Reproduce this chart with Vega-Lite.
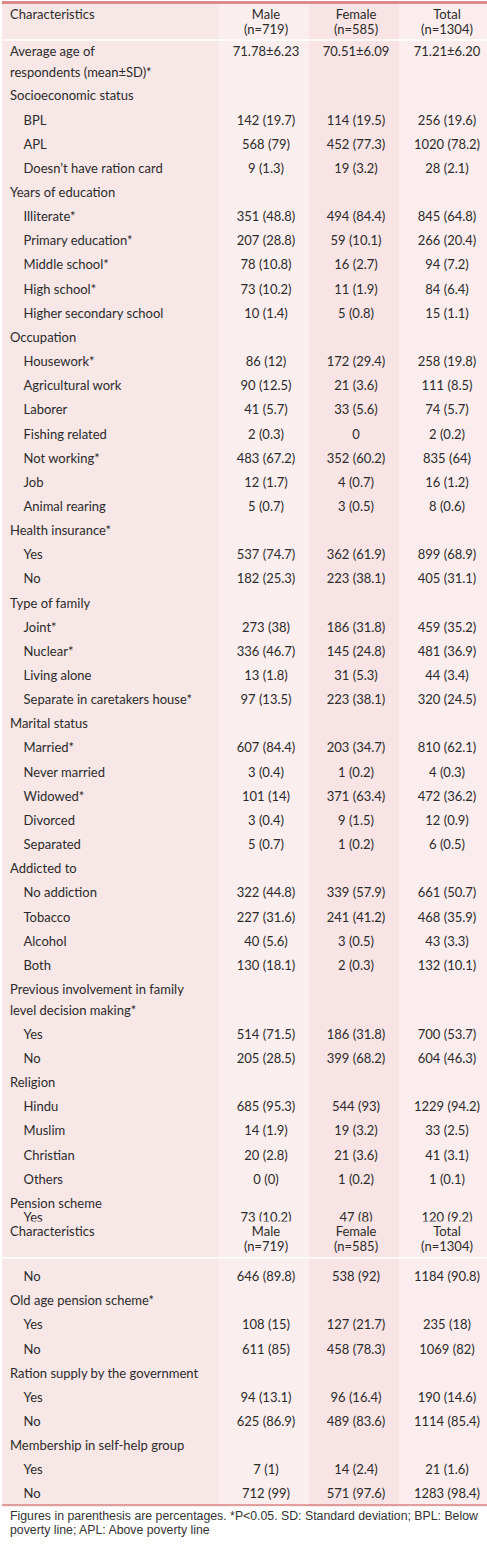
{
  "$schema": "https://vega.github.io/schema/vega-lite/v6.json",
  "padding": 0,
  "spacing": 0,
  "background": "white",
  "config": {
    "view": {"stroke": null},
    "concat": {"spacing": 0},
    "text": {"font": "Lato", "fontSize": 13, "color": "#2b2b2b", "baseline": "alphabetic", "dy": 4.5, "lineHeight": 21}
  },
  "datasets": {
    "rows": [
      {"s": 1, "r": -1.532, "level": 2, "label": "Characteristics", "m": "Male", "f": "Female", "t": "Total"},
      {"s": 1, "r": -0.89, "level": 2, "label": "", "m": "(n=719)", "f": "(n=585)", "t": "(n=1304)"},
      {"s": 1, "r": 0, "level": 0, "label": ["Average age of", "respondents (mean±SD)*"], "m": "71.78±6.23", "f": "70.51±6.09", "t": "71.21±6.20"},
      {"s": 1, "r": 1.86, "level": 0, "label": "Socioeconomic status", "m": "", "f": "", "t": ""},
      {"s": 1, "r": 2.86, "level": 1, "label": "BPL", "m": "142 (19.7)", "f": "114 (19.5)", "t": "256 (19.6)"},
      {"s": 1, "r": 3.86, "level": 1, "label": "APL", "m": "568 (79)", "f": "452 (77.3)", "t": "1020 (78.2)"},
      {"s": 1, "r": 4.86, "level": 1, "label": "Doesn’t have ration card", "m": "9 (1.3)", "f": "19 (3.2)", "t": "28 (2.1)"},
      {"s": 1, "r": 5.86, "level": 0, "label": "Years of education", "m": "", "f": "", "t": ""},
      {"s": 1, "r": 6.86, "level": 1, "label": "Illiterate*", "m": "351 (48.8)", "f": "494 (84.4)", "t": "845 (64.8)"},
      {"s": 1, "r": 7.86, "level": 1, "label": "Primary education*", "m": "207 (28.8)", "f": "59 (10.1)", "t": "266 (20.4)"},
      {"s": 1, "r": 8.86, "level": 1, "label": "Middle school*", "m": "78 (10.8)", "f": "16 (2.7)", "t": "94 (7.2)"},
      {"s": 1, "r": 9.86, "level": 1, "label": "High school*", "m": "73 (10.2)", "f": "11 (1.9)", "t": "84 (6.4)"},
      {"s": 1, "r": 10.86, "level": 1, "label": "Higher secondary school", "m": "10 (1.4)", "f": "5 (0.8)", "t": "15 (1.1)"},
      {"s": 1, "r": 11.86, "level": 0, "label": "Occupation", "m": "", "f": "", "t": ""},
      {"s": 1, "r": 12.86, "level": 1, "label": "Housework*", "m": "86 (12)", "f": "172 (29.4)", "t": "258 (19.8)"},
      {"s": 1, "r": 13.86, "level": 1, "label": "Agricultural work", "m": "90 (12.5)", "f": "21 (3.6)", "t": "111 (8.5)"},
      {"s": 1, "r": 14.86, "level": 1, "label": "Laborer", "m": "41 (5.7)", "f": "33 (5.6)", "t": "74 (5.7)"},
      {"s": 1, "r": 15.86, "level": 1, "label": "Fishing related", "m": "2 (0.3)", "f": "0", "t": "2 (0.2)"},
      {"s": 1, "r": 16.86, "level": 1, "label": "Not working*", "m": "483 (67.2)", "f": "352 (60.2)", "t": "835 (64)"},
      {"s": 1, "r": 17.86, "level": 1, "label": "Job", "m": "12 (1.7)", "f": "4 (0.7)", "t": "16 (1.2)"},
      {"s": 1, "r": 18.86, "level": 1, "label": "Animal rearing", "m": "5 (0.7)", "f": "3 (0.5)", "t": "8 (0.6)"},
      {"s": 1, "r": 19.86, "level": 0, "label": "Health insurance*", "m": "", "f": "", "t": ""},
      {"s": 1, "r": 20.86, "level": 1, "label": "Yes", "m": "537 (74.7)", "f": "362 (61.9)", "t": "899 (68.9)"},
      {"s": 1, "r": 21.86, "level": 1, "label": "No", "m": "182 (25.3)", "f": "223 (38.1)", "t": "405 (31.1)"},
      {"s": 1, "r": 22.86, "level": 0, "label": "Type of family", "m": "", "f": "", "t": ""},
      {"s": 1, "r": 23.86, "level": 1, "label": "Joint*", "m": "273 (38)", "f": "186 (31.8)", "t": "459 (35.2)"},
      {"s": 1, "r": 24.86, "level": 1, "label": "Nuclear*", "m": "336 (46.7)", "f": "145 (24.8)", "t": "481 (36.9)"},
      {"s": 1, "r": 25.86, "level": 1, "label": "Living alone", "m": "13 (1.8)", "f": "31 (5.3)", "t": "44 (3.4)"},
      {"s": 1, "r": 26.86, "level": 1, "label": "Separate in caretakers house*", "m": "97 (13.5)", "f": "223 (38.1)", "t": "320 (24.5)"},
      {"s": 1, "r": 27.86, "level": 0, "label": "Marital status", "m": "", "f": "", "t": ""},
      {"s": 1, "r": 28.86, "level": 1, "label": "Married*", "m": "607 (84.4)", "f": "203 (34.7)", "t": "810 (62.1)"},
      {"s": 1, "r": 29.86, "level": 1, "label": "Never married", "m": "3 (0.4)", "f": "1 (0.2)", "t": "4 (0.3)"},
      {"s": 1, "r": 30.86, "level": 1, "label": "Widowed*", "m": "101 (14)", "f": "371 (63.4)", "t": "472 (36.2)"},
      {"s": 1, "r": 31.86, "level": 1, "label": "Divorced", "m": "3 (0.4)", "f": "9 (1.5)", "t": "12 (0.9)"},
      {"s": 1, "r": 32.86, "level": 1, "label": "Separated", "m": "5 (0.7)", "f": "1 (0.2)", "t": "6 (0.5)"},
      {"s": 1, "r": 33.86, "level": 0, "label": "Addicted to", "m": "", "f": "", "t": ""},
      {"s": 1, "r": 34.86, "level": 1, "label": "No addiction", "m": "322 (44.8)", "f": "339 (57.9)", "t": "661 (50.7)"},
      {"s": 1, "r": 35.86, "level": 1, "label": "Tobacco", "m": "227 (31.6)", "f": "241 (41.2)", "t": "468 (35.9)"},
      {"s": 1, "r": 36.86, "level": 1, "label": "Alcohol", "m": "40 (5.6)", "f": "3 (0.5)", "t": "43 (3.3)"},
      {"s": 1, "r": 37.86, "level": 1, "label": "Both", "m": "130 (18.1)", "f": "2 (0.3)", "t": "132 (10.1)"},
      {"s": 1, "r": 38.86, "level": 0, "label": ["Previous involvement in family", "level decision making*"], "m": "", "f": "", "t": ""},
      {"s": 1, "r": 40.72, "level": 1, "label": "Yes", "m": "514 (71.5)", "f": "186 (31.8)", "t": "700 (53.7)"},
      {"s": 1, "r": 41.72, "level": 1, "label": "No", "m": "205 (28.5)", "f": "399 (68.2)", "t": "604 (46.3)"},
      {"s": 1, "r": 42.72, "level": 0, "label": "Religion", "m": "", "f": "", "t": ""},
      {"s": 1, "r": 43.72, "level": 1, "label": "Hindu", "m": "685 (95.3)", "f": "544 (93)", "t": "1229 (94.2)"},
      {"s": 1, "r": 44.72, "level": 1, "label": "Muslim", "m": "14 (1.9)", "f": "19 (3.2)", "t": "33 (2.5)"},
      {"s": 1, "r": 45.72, "level": 1, "label": "Christian", "m": "20 (2.8)", "f": "21 (3.6)", "t": "41 (3.1)"},
      {"s": 1, "r": 46.72, "level": 1, "label": "Others", "m": "0 (0)", "f": "1 (0.2)", "t": "1 (0.1)"},
      {"s": 1, "r": 47.72, "level": 0, "label": "Pension scheme", "m": "", "f": "", "t": ""},
      {"s": 1, "r": 48.32, "level": 1, "label": "Yes", "m": "73 (10.2)", "f": "47 (8)", "t": "120 (9.2)"},
      {"s": 2, "r": 48.88, "level": 2, "label": "Characteristics", "m": "Male", "f": "Female", "t": "Total"},
      {"s": 2, "r": 49.5, "level": 2, "label": "", "m": "(n=719)", "f": "(n=585)", "t": "(n=1304)"},
      {"s": 2, "r": 50.75, "level": 1, "label": "No", "m": "646 (89.8)", "f": "538 (92)", "t": "1184 (90.8)"},
      {"s": 2, "r": 51.75, "level": 0, "label": "Old age pension scheme*", "m": "", "f": "", "t": ""},
      {"s": 2, "r": 52.75, "level": 1, "label": "Yes", "m": "108 (15)", "f": "127 (21.7)", "t": "235 (18)"},
      {"s": 2, "r": 53.75, "level": 1, "label": "No", "m": "611 (85)", "f": "458 (78.3)", "t": "1069 (82)"},
      {"s": 2, "r": 54.75, "level": 0, "label": "Ration supply by the government", "m": "", "f": "", "t": ""},
      {"s": 2, "r": 55.75, "level": 1, "label": "Yes", "m": "94 (13.1)", "f": "96 (16.4)", "t": "190 (14.6)"},
      {"s": 2, "r": 56.75, "level": 1, "label": "No", "m": "625 (86.9)", "f": "489 (83.6)", "t": "1114 (85.4)"},
      {"s": 2, "r": 57.75, "level": 0, "label": "Membership in self-help group", "m": "", "f": "", "t": ""},
      {"s": 2, "r": 58.75, "level": 1, "label": "Yes", "m": "7 (1)", "f": "14 (2.4)", "t": "21 (1.6)"},
      {"s": 2, "r": 59.75, "level": 1, "label": "No", "m": "712 (99)", "f": "571 (97.6)", "t": "1283 (98.4)"}
    ],
    "notes": [
      {"line": 1, "text": "Figures in parenthesis are percentages. *P<0.05. SD: Standard deviation; BPL: Below"},
      {"line": 2, "text": "poverty line; APL: Above poverty line"}
    ]
  },
  "vconcat": [
    {
      "spacing": 0,
      "bounds": "flush",
      "hconcat": [
        {
          "width": 217, "height": 1506,
          "view": {"fill": "#f8e7e7"},
          "data": {"name": "rows"},
          "layer": [
            {"transform": [{"filter": "datum.s == 1 && datum.level != 1"}], "mark": {"type": "text", "align": "left"},
             "encoding": {"x": {"value": 8}, "y": {"field": "r", "type": "quantitative", "axis": null, "scale": {"domain": [-2.0704, 60.29], "reverse": true, "nice": false, "zero": false}}, "text": {"field": "label"}}},
            {"transform": [{"filter": "datum.s == 1 && datum.level == 1"}], "mark": {"type": "text", "align": "left"},
             "encoding": {"x": {"value": 21.5}, "y": {"field": "r", "type": "quantitative"}, "text": {"field": "label"}}},
            {"data": {"values": [{}]}, "mark": {"type": "rect", "color": "#f8e7e7"}, "encoding": {"y": {"datum": 48.47}, "y2": {"datum": 60.207}}},
            {"transform": [{"filter": "datum.s == 2 && datum.level != 1"}], "mark": {"type": "text", "align": "left"},
             "encoding": {"x": {"value": 8}, "y": {"field": "r", "type": "quantitative"}, "text": {"field": "label"}}},
            {"transform": [{"filter": "datum.s == 2 && datum.level == 1"}], "mark": {"type": "text", "align": "left"},
             "encoding": {"x": {"value": 21.5}, "y": {"field": "r", "type": "quantitative"}, "text": {"field": "label"}}},
            {"data": {"values": [{}]}, "mark": {"type": "rule", "color": "#dc8a8c", "strokeWidth": 3}, "encoding": {"y": {"datum": -2.0083}}},
            {"data": {"values": [{}]}, "mark": {"type": "rule", "color": "#ffffff", "strokeWidth": 1.5}, "encoding": {"y": {"datum": -0.4555}}},
            {"data": {"values": [{}]}, "mark": {"type": "rule", "color": "#ffffff", "strokeWidth": 1.5}, "encoding": {"y": {"datum": 49.97}}},
            {"data": {"values": [{}]}, "mark": {"type": "rule", "color": "#d98486", "strokeWidth": 1.5}, "encoding": {"y": {"datum": 60.207}}}
          ]
        },
        {
          "width": 90, "height": 1506,
          "view": {"fill": "#fbeeee"},
          "data": {"name": "rows"},
          "layer": [
            {"transform": [{"filter": "datum.s == 1"}], "mark": {"type": "text", "align": "center", "dx": 2},
             "encoding": {"y": {"field": "r", "type": "quantitative", "axis": null, "scale": {"domain": [-2.0704, 60.29], "reverse": true, "nice": false, "zero": false}}, "text": {"field": "m"}}},
            {"data": {"values": [{}]}, "mark": {"type": "rect", "color": "#fbeeee"}, "encoding": {"y": {"datum": 48.47}, "y2": {"datum": 60.207}}},
            {"transform": [{"filter": "datum.s == 2"}], "mark": {"type": "text", "align": "center", "dx": 2},
             "encoding": {"y": {"field": "r", "type": "quantitative"}, "text": {"field": "m"}}},
            {"data": {"values": [{}]}, "mark": {"type": "rule", "color": "#dc8a8c", "strokeWidth": 3}, "encoding": {"y": {"datum": -2.0083}}},
            {"data": {"values": [{}]}, "mark": {"type": "rule", "color": "#ffffff", "strokeWidth": 1.5}, "encoding": {"y": {"datum": -0.4555}}},
            {"data": {"values": [{}]}, "mark": {"type": "rule", "color": "#ffffff", "strokeWidth": 1.5}, "encoding": {"y": {"datum": 49.97}}},
            {"data": {"values": [{}]}, "mark": {"type": "rule", "color": "#d98486", "strokeWidth": 1.5}, "encoding": {"y": {"datum": 60.207}}}
          ]
        },
        {
          "width": 90, "height": 1506,
          "view": {"fill": "#f8e4e4"},
          "data": {"name": "rows"},
          "layer": [
            {"transform": [{"filter": "datum.s == 1"}], "mark": {"type": "text", "align": "center", "dx": 2},
             "encoding": {"y": {"field": "r", "type": "quantitative", "axis": null, "scale": {"domain": [-2.0704, 60.29], "reverse": true, "nice": false, "zero": false}}, "text": {"field": "f"}}},
            {"data": {"values": [{}]}, "mark": {"type": "rect", "color": "#f8e4e4"}, "encoding": {"y": {"datum": 48.47}, "y2": {"datum": 60.207}}},
            {"transform": [{"filter": "datum.s == 2"}], "mark": {"type": "text", "align": "center", "dx": 2},
             "encoding": {"y": {"field": "r", "type": "quantitative"}, "text": {"field": "f"}}},
            {"data": {"values": [{}]}, "mark": {"type": "rule", "color": "#dc8a8c", "strokeWidth": 3}, "encoding": {"y": {"datum": -2.0083}}},
            {"data": {"values": [{}]}, "mark": {"type": "rule", "color": "#ffffff", "strokeWidth": 1.5}, "encoding": {"y": {"datum": -0.4555}}},
            {"data": {"values": [{}]}, "mark": {"type": "rule", "color": "#ffffff", "strokeWidth": 1.5}, "encoding": {"y": {"datum": 49.97}}},
            {"data": {"values": [{}]}, "mark": {"type": "rule", "color": "#d98486", "strokeWidth": 1.5}, "encoding": {"y": {"datum": 60.207}}}
          ]
        },
        {
          "width": 90, "height": 1506,
          "view": {"fill": "#fbeded"},
          "data": {"name": "rows"},
          "layer": [
            {"transform": [{"filter": "datum.s == 1"}], "mark": {"type": "text", "align": "center", "dx": 3},
             "encoding": {"y": {"field": "r", "type": "quantitative", "axis": null, "scale": {"domain": [-2.0704, 60.29], "reverse": true, "nice": false, "zero": false}}, "text": {"field": "t"}}},
            {"data": {"values": [{}]}, "mark": {"type": "rect", "color": "#fbeded"}, "encoding": {"y": {"datum": 48.47}, "y2": {"datum": 60.207}}},
            {"transform": [{"filter": "datum.s == 2"}], "mark": {"type": "text", "align": "center", "dx": 3},
             "encoding": {"y": {"field": "r", "type": "quantitative"}, "text": {"field": "t"}}},
            {"data": {"values": [{}]}, "mark": {"type": "rule", "color": "#dc8a8c", "strokeWidth": 3}, "encoding": {"y": {"datum": -2.0083}}},
            {"data": {"values": [{}]}, "mark": {"type": "rule", "color": "#ffffff", "strokeWidth": 1.5}, "encoding": {"y": {"datum": -0.4555}}},
            {"data": {"values": [{}]}, "mark": {"type": "rule", "color": "#ffffff", "strokeWidth": 1.5}, "encoding": {"y": {"datum": 49.97}}},
            {"data": {"values": [{}]}, "mark": {"type": "rule", "color": "#d98486", "strokeWidth": 1.5}, "encoding": {"y": {"datum": 60.207}}}
          ]
        }
      ]
    },
    {
      "width": 487, "height": 38,
      "data": {"name": "notes"},
      "mark": {"type": "text", "align": "left", "font": "Liberation Sans", "fontSize": 12.3, "color": "#333333", "dy": 4},
      "encoding": {
        "x": {"value": 8},
        "y": {"field": "line", "type": "quantitative", "axis": null, "scale": {"domain": [0.357, 3.07], "reverse": true, "nice": false, "zero": false}},
        "text": {"field": "text"}
      }
    }
  ]
}
